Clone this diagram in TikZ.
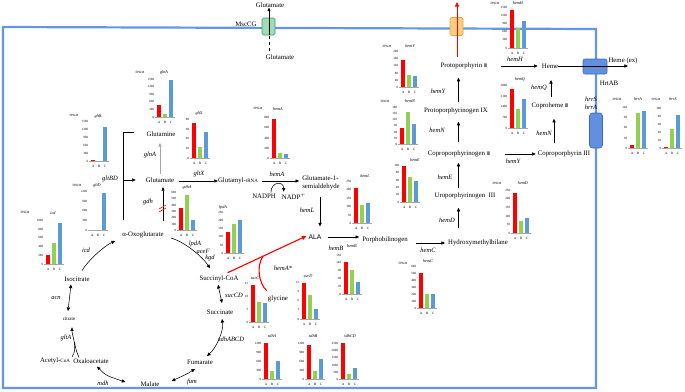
\documentclass[tikz,border=0pt]{standalone}
\usepackage{fontspec}
\setmainfont{Liberation Serif}
\newfontfamily\sansf{Liberation Sans}
\newfontfamily\djv{DejaVu Sans}
\usetikzlibrary{arrows.meta,calc}
\definecolor{memb}{RGB}{100,149,230}
\definecolor{bred}{RGB}{255,0,0}
\definecolor{bgreen}{RGB}{146,208,80}
\definecolor{bblue}{RGB}{91,155,213}
\definecolor{mgreen}{RGB}{160,220,185}
\definecolor{mgreend}{RGB}{50,160,100}
\definecolor{morange}{RGB}{255,205,130}
\definecolor{morangeD}{RGB}{240,160,40}
\definecolor{tbox}{RGB}{95,145,222}
\definecolor{tboxD}{RGB}{60,105,190}
\newcommand\mychart[7]{%
  \fill[bred] (#1,#2) rectangle (#1+4,#4);
  \fill[bgreen] (#1+6,#2) rectangle (#1+10,#5);
  \fill[bblue] (#1+12,#2) rectangle (#1+16,#6);
  \draw[gray!70,line width=0.4pt] (#1-2,#2) -- (#1+18,#2);
  \foreach \yy/\ll [count=\kk] in {#3}{\node[tickl] (#7-t\kk) at (#1-2.5,\yy) {\ll};}
  \node[abcl] (#7-a) at (#1+2,#2+5) {A};
  \node[abcl] (#7-b) at (#1+8,#2+5) {B};
  \node[abcl] (#7-c) at (#1+14,#2+5) {C};
}
\begin{document}
\begin{tikzpicture}[x=1pt,y=-1pt,
  lab/.style={font=\fontsize{6.8}{8}\selectfont, inner sep=0pt},
  enz/.style={font=\fontsize{6.5}{7}\selectfont\itshape, inner sep=0pt},
  tickl/.style={font=\fontsize{3.2}{3}\selectfont, anchor=east, inner sep=0.2pt},
  abcl/.style={font=\fontsize{3.4}{3}\selectfont, inner sep=0pt},
  ctitle/.style={font=\fontsize{4.2}{4}\selectfont\itshape, inner sep=0pt},
  fpk/.style={font=\fontsize{3.2}{3}\selectfont, inner sep=0pt},
  arr/.style={-{Triangle[length=3.6pt,width=3.2pt]}, line width=0.55pt},
  darr/.style={{Triangle[length=3.6pt,width=3.2pt]}-{Triangle[length=3.6pt,width=3.2pt]}, line width=0.55pt},
  redarr/.style={-{Triangle[length=4.5pt,width=4pt]}, line width=1.1pt, draw=bred, fill=bred}
]
\useasboundingbox (0,0) rectangle (685,391);
% membrane frame
\draw[memb, line width=2.2pt] (3,27) -- (596,29) -- (596,388) -- (3,388) -- cycle;

% transporters
\node[draw=mgreend, fill=mgreen, rounded corners=1.5pt, minimum width=13pt, minimum height=17pt, inner sep=0pt, line width=0.6pt] (mscbox) at (268.5,26.5) {};
\node[draw=morangeD, fill=morange, rounded corners=1.5pt, minimum width=13pt, minimum height=18pt, inner sep=0pt, line width=0.6pt] (orbox) at (456.5,26.5) {};
\node[draw=tboxD, fill=tbox, rounded corners=2pt, minimum width=24pt, minimum height=15pt, inner sep=0pt, line width=0.6pt] (hrtbox) at (595,66.5) {};
\node[draw=tboxD, fill=tbox, rounded corners=3pt, minimum width=13pt, minimum height=35pt, inner sep=0pt, line width=0.6pt] (hrrbox) at (596,130.5) {};

% metabolite labels
\node[lab] (msclab) at (246,24) {MscCG};
\node[lab] (gluout) at (270,5) {Glutamate};
\node[lab] (gluin) at (280,57) {Glutamate};
\node[lab] (glutamine) at (161,134) {Glutamine};
\node[lab] (glutamate) at (160,180) {Glutamate};
\node[lab] (aoxo) at (143,235) {α-Oxoglutarate};
\node[lab] (gtrna) at (238,181) {Glutamyl-{\fontsize{5}{5}\selectfont tRNA}};
\node[lab, align=left] (gsa) at (321,183) {Glutamate-1-\\semialdehyde};
\node[lab] (nadph) at (264,196) {NADPH};
\node[lab] (nadp) at (294,196) {NADP$^+$};
\node[lab, font=\sansf\fontsize{6.8}{7}\selectfont] (ala) at (315,237) {ALA};
\node[lab] (pbg) at (385,240) {Porphobilinogen};
\node[lab] (hmb) at (478,243) {Hydroxymethylbilane};
\node[lab] (uro) at (465,196) {Uroporphyrinogen~~III};
\node[lab] (copgen) at (459,154) {Coproporphyrinogen {\djv\fontsize{5}{5}\selectfont Ⅲ}};
\node[lab] (protogen) at (456,111) {Protoporphyrinogen IX};
\node[lab] (proto) at (464,66) {Protoporphyrin {\djv\fontsize{5}{5}\selectfont Ⅲ}};
\node[lab] (heme) at (550,66) {Heme};
\node[lab] (copheme) at (550,106) {Coproheme {\djv\fontsize{5}{5}\selectfont Ⅲ}};
\node[lab] (copro) at (564,154) {Coproporphyrin III};
\node[lab] (hemeex) at (623,61) {Heme (ex)};
\node[lab] (hrtab) at (609,83) {HrtAB};
\node[enz] (hrrSl) at (591,99) {hrrS};
\node[enz] (hrrAl) at (591,107) {hrrA};
\node[lab] (isocit) at (77,279) {Isocitrate};
\node[lab, font=\fontsize{5}{5}\selectfont] (citrate) at (69,319) {citrate};
\node[lab] (acoa) at (55,361) {Acetyl-{\fontsize{5}{5}\selectfont CoA}};
\node[lab] (oaa) at (91,361) {Oxaloacetate};
\node[lab] (malate) at (150,384) {Malate};
\node[lab] (fumarate) at (200,362) {Fumarate};
\node[lab] (succinate) at (220,312) {Succinate};
\node[lab] (succoa) at (219,279) {Succinyl-CoA};
\node[lab] (glycine) at (278,299) {glycine};

% enzyme labels
\node[enz] (e-gltBD) at (110,179) {gltBD};
\node[enz] (e-glnA) at (150,155) {glnA};
\node[enz] (e-gdh) at (148,202) {gdh};
\node[enz] (e-gltX) at (199,174) {gltX};
\node[enz] (e-icd) at (86,250) {icd};
\node[enz] (e-lpdA) at (195,244) {lpdA};
\node[enz] (e-aceF) at (203,251) {aceF};
\node[enz] (e-kgd) at (210,258) {kgd};
\node[enz] (e-sucCD) at (234,295) {sucCD};
\node[enz] (e-sdh) at (231,339) {sdhABCD};
\node[enz] (e-fum) at (192,382) {fum};
\node[enz] (e-mdh) at (103,383) {mdh};
\node[enz] (e-gltA) at (66,338) {gltA};
\node[enz] (e-acn) at (56,298) {acn};
\node[enz] (e-hemA) at (277,174) {hemA};
\node[enz] (e-hemL) at (307,210) {hemL};
\node[enz] (e-hemB) at (336,248.5) {hemB};
\node[enz] (e-hemC) at (428,250) {hemC};
\node[enz] (e-hemD) at (447,220) {hemD};
\node[enz] (e-hemE) at (445,177) {hemE};
\node[enz] (e-hemN) at (437,130) {hemN};
\node[enz] (e-hemY) at (438,91) {hemY};
\node[enz] (e-hemH) at (515,59) {hemH};
\node[enz] (e-hemQ) at (539,88) {hemQ};
\node[enz] (e-hemN2) at (544,133) {hemN};
\node[enz] (e-hemY2) at (513,161) {hemY};
\node[enz] (e-hemAs) at (283,268) {hemA*};

% column coordinates
\coordinate (mscx) at (269,0);
\coordinate (orx) at (457,0);
\coordinate (redtop) at (457,2);
\coordinate (pc) at (458.5,0);
\coordinate (c554) at (554,0);
\coordinate (c551) at (551,0);
\coordinate (c320) at (320,0);
\coordinate (brk) at (123,0);
\coordinate (c160) at (160,0);
\coordinate (c163) at (163,0);
\coordinate (hemeend) at (628,66);

% MscCG glutamate export
\draw[dashed, line width=0.5pt] ([yshift=3pt]gluin.north -| mscx) -- (mscbox.south -| mscx);
\draw[arr] (mscbox.south -| mscx) -- (gluout.south -| mscx);
% red export arrow through orange transporter
\draw[redarr, line width=0.8pt] ([yshift=6pt]proto.north -| orx) -- (redtop);

% glutamate area
\draw[line width=0.55pt] ([xshift=-12pt,yshift=2pt]glutamine.west) -- ([yshift=2pt]glutamine.west -| brk) -- ([yshift=11.5pt]aoxo.north -| brk);
\draw[arr] (glutamate.west -| brk) -- ([xshift=-10pt]glutamate.west);
\draw[arr, draw=gray!70] ([yshift=3.5pt]glutamate.north -| c160) -- ([yshift=-6.5pt]glutamine.south -| c160);
\draw[arr] ([yshift=10.5pt]aoxo.north -| c163) -- ([yshift=-4.5pt]glutamate.south -| c163);
\draw[bred, line width=0.6pt] (159,209) -- (166,205) (159,212) -- (166,208);
\draw[arr, shorten <=5pt] (glutamate.east |- gtrna.west) -- (gtrna.west);

% heme synthesis
\draw[arr, shorten <=4pt, shorten >=3pt] (gtrna.east) -- (gtrna.east -| gsa.west);
\draw[arr] ([xshift=-5pt,yshift=1pt]nadph.north east) .. controls +(0,-11) and +(0,-11) .. ([xshift=2pt,yshift=1pt]nadp.north west);
\draw[arr, shorten <=7pt, shorten >=8pt] (gsa.south -| c320) -- (ala.north -| c320);
\draw[arr, shorten <=6pt, shorten >=3pt] (ala.east) -- (ala.east -| pbg.west);
\draw[arr, shorten <=8pt, shorten >=3pt] (pbg.east |- hmb.west) -- (hmb.west);
\draw[arr, shorten <=11.5pt, shorten >=8.5pt] (hmb.north -| pc) -- (uro.south -| pc);
\draw[arr, shorten <=4.5pt, shorten >=5.5pt] (uro.north -| pc) -- (copgen.south -| pc);
\draw[arr, shorten <=8.5pt, shorten >=7.5pt] (copgen.north -| pc) -- (protogen.south -| pc);
\draw[arr, shorten <=5.5pt, shorten >=8.5pt] (protogen.north -| pc) -- (proto.south -| pc);
\draw[arr, shorten <=13pt, shorten >=4pt] (proto.east) -- (heme.west);
\draw[arr, shorten <=15pt, shorten >=2pt] (copgen.east) -- (copro.west);
\draw[arr, shorten <=7.5pt, shorten >=9.5pt] (copro.north -| c554) -- (copheme.south -| c554);
\draw[arr, shorten <=5.5pt, shorten >=11.5pt] (copheme.north -| c551) -- (heme.south -| c551);
\draw[arr] (heme.east) -- (hemeend);

% red ALA synthesis from succinyl-CoA and glycine
\coordinate (rs) at ($(succoa.north east)+(-11,-3)$);
\coordinate (re) at ($(ala.west)+(-2,-1)$);
\coordinate (junc) at ($(rs)!0.45!(re)$);
\draw[redarr] (rs) -- (re);
\draw[bred, line width=1.1pt] ($(glycine.north west)+(-1,-5)$) .. controls +(-8,-7) and +(-7,10) .. (junc);

% TCA cycle
\draw[arr] ($(isocit.north)+(5,-6)$) .. controls +(6,-10) and +(-11,5) .. ($(aoxo.west)+(-7,6)$);
\draw[arr] ($(aoxo.east)+(7,3)$) .. controls +(14,4) and +(-8,-12) .. ($(succoa.north)+(-9,-7.5)$);
\draw[darr] ($(succoa.south)+(-1,2.5)$) -- ($(succinate.north)+(2,-6.5)$);
\draw[darr] ($(succinate.south)+(2,4.5)$) .. controls +(2,12) and +(9,-8) .. ($(fumarate.north)+(7,-3.5)$);
\draw[darr] ($(fumarate.south)+(-5,4.5)$) .. controls +(-8,5) .. ($(malate.east)+(12,-3)$);
\draw[darr] ($(oaa.south)+(6,3)$) .. controls +(9,9) .. ($(malate.west)+(-15,-2)$);
\draw[darr] ($(isocit.south)+(-6,3)$) -- ($(citrate.north)+(-1,-6)$);
\draw[arr] ($(acoa.north east)+(2,-1)$) .. controls +(6,-8) and +(0,8) .. ($(citrate.south)+(3,6.5)$);
\draw[line width=0.55pt] ($(oaa.north west)+(6,-1)$) .. controls +(-3,-7) .. (74.5,342);

% bar charts
\mychart{157}{117}{117/0,109/300,101/600,94/900,86/1200,79/1500}{105}{114}{80}{cglnA}
\mychart{192}{158}{158/0,148/20,138.5/40,129/60,119/80}{123}{147}{132}{cgltX}
\mychart{91}{161}{161/0,153/300,145/600,137/900,129/1200,121/1500}{159.5}{161}{127}{cgltB}
\mychart{90}{230}{230/0,220/300,210.5/600,201/900,191/1200}{230}{230}{193}{cgltD}
\mychart{46}{264}{264/0,255/200,246/400,237/600,229/800,220/1000}{255}{243}{223}{cicd}
\mychart{179}{230}{230/0,224/100,217/200,211/300,205/400,198/500,192/600}{208}{195}{220}{cgdhA}
\mychart{226}{253}{253/0,245/50,236.5/100,228/150,220/200,212/250}{232}{224}{220}{clpdA}
\mychart{272}{158}{158/0,148/200,138/400,127.5/600,117/800}{119}{153}{154}{chemA}
\mychart{354}{223}{223/0,215/50,206.5/100,198/150,189.5/200,181/250}{188}{205}{203}{chemL}
\mychart{402}{202}{202/0,194.5/20,187/40,180/60,172.5/80,165/100}{166}{177}{181}{chemE}
\mychart{401}{87}{87/0,80/40,73/80,65.5/120,58/160,51/200}{60}{75}{76}{chemY}
\mychart{400}{144}{144/0,138/30,132/60,125.5/90,119.5/120,113/150,107/180}{128}{112}{124}{chemN}
\mychart{510}{48}{48/0,39.8/300,31.6/600,23.4/900,15.2/1200,7/1500}{10}{28}{21}{chemH}
\mychart{513}{233}{233/0,224.5/50,216/100,207.5/150,198.5/200,190/250}{193}{221}{218}{chemD}
\mychart{419}{308}{308/0,301/100,294/200,287/300,280/400,273/500,266/600}{273}{294}{294}{chemC}
\mychart{344}{294}{294/0,286/30,278/60,270/90,262/120,255/150}{262}{270}{282}{chemB}
\mychart{251}{322}{322/0,309/5,296/10,283/15}{285}{302}{303}{csucC}
\mychart{302}{319}{319/0,309.5/3,300/6,291/9,282/12}{283}{295}{309}{csucD}
\mychart{264}{379}{379/0,370/300,361/600,352/900,343/1200}{343}{371}{361}{csdhA}
\mychart{307}{379}{379/0,370/300,361/600,352/900,343/1200}{345}{371}{359}{csdhB}
\mychart{341}{379}{379/0,372/500,365/1000,357.5/1500,350/2000,343/2500}{343}{374}{368}{csdhCD}
\mychart{510}{128}{128/0,117/700,106.5/1400,96/2100,85/2800}{89}{109}{99}{chemQ}
\mychart{630}{148}{148/0,138/30,127.5/60,117/90,107/120}{145}{113}{111}{chrrA}
\mychart{664}{148}{148/0,140/20,132/40,124/60,116/80,108/100}{147}{129}{115}{chrrS}

% chart titles
\node[ctitle] (tglnA) at (164,72) {glnA}; \node[fpk] (fglnA) at (140,72) {FPKM};
\node[ctitle] (tgltX) at (199,113) {gltX};
\node[ctitle] (tgltB) at (98,116) {gltB}; \node[fpk] (fgltB) at (74,115) {FPKM};
\node[ctitle] (tgltD) at (97,185) {gltD}; \node[fpk] (fgltD) at (77,185) {FPKM};
\node[ctitle] (ticd) at (53,213) {icd}; \node[fpk] (ficd) at (25,212) {FPKM};
\node[ctitle] (tgdhA) at (187,187) {gdhA};
\node[ctitle] (tlpdA) at (223,207) {lpdA};
\node[ctitle] (themA) at (278,109) {hemA}; \node[fpk] (fhemA) at (258,108) {FPKM};
\node[ctitle] (themL) at (365,176) {hemL};
\node[ctitle] (themE) at (415,160) {hemE};
\node[ctitle] (themY) at (410,46) {hemY}; \node[fpk] (fhemY) at (387,46) {FPKM};
\node[ctitle] (themN) at (410,101) {hemN}; \node[fpk] (fhemN) at (385,101) {FPKM};
\node[ctitle] (themH) at (518,3) {hemH}; \node[fpk] (fhemH) at (495,3) {FPKM};
\node[ctitle] (themD) at (523,183) {hemD}; \node[fpk] (fhemD) at (497,183) {FPKM};
\node[ctitle] (themC) at (428,261) {hemC}; \node[fpk] (fhemC) at (403,263) {FPKM};
\node[ctitle] (themB) at (352,246) {hemB};
\node[ctitle] (tsucC) at (255,278) {sucC};
\node[ctitle] (tsucD) at (308,276) {sucD};
\node[ctitle] (tsdhA) at (272,336) {sdhA};
\node[ctitle] (tsdhB) at (313,336) {sdhB};
\node[ctitle] (tsdhCD) at (350,336) {sdhCD};
\node[ctitle] (themQ) at (520,79) {hemQ};
\node[ctitle] (thrrA) at (638,99) {hrrA}; \node[fpk] (fhrrA) at (617,99) {FPKM};
\node[ctitle] (thrrS) at (673,99) {hrrS}; \node[fpk] (fhrrS) at (656,99) {FPKM};
\end{tikzpicture}
\end{document}
